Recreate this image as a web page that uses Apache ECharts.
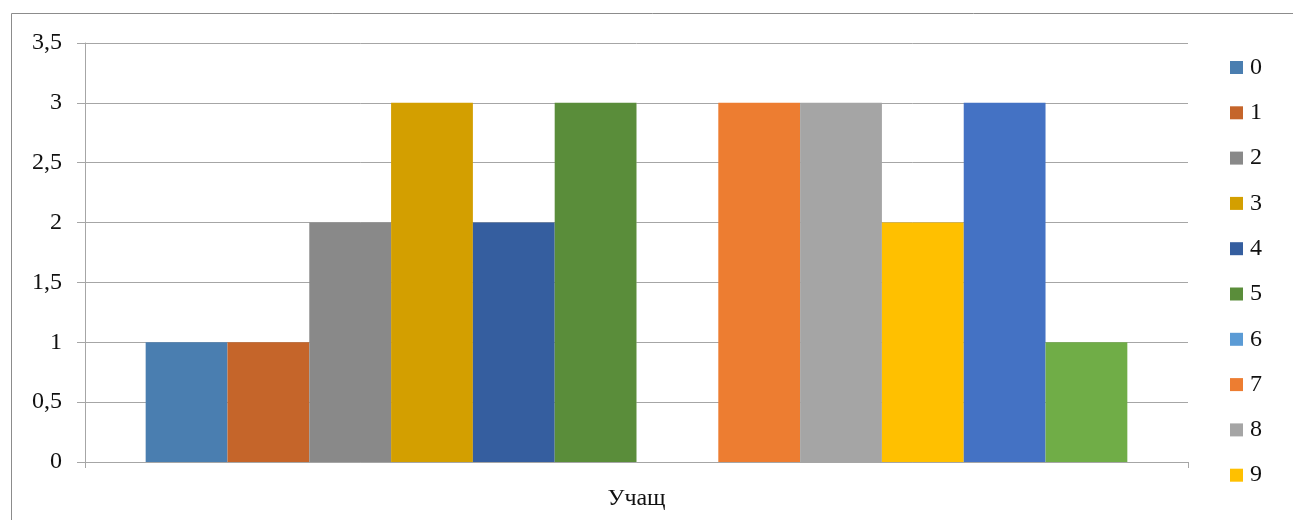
<!DOCTYPE html>
<html>
<head>
<meta charset="utf-8">
<script src="https://cdn.jsdelivr.net/npm/echarts@6/dist/echarts.min.js"></script>
<style>
  html, body { margin: 0; padding: 0; background: #fff; }
  #chart { width: 1293px; height: 520px; }
</style>
</head>
<body>
<div id="chart"></div>
<script>
// Category and per-series values
const categories = ['Учащ'];
const seriesNames = ['0', '1', '2', '3', '4', '5', '6', '7', '8', '9', '10', '11'];
const seriesValues = [1, 1, 2, 3, 2, 3, 0, 3, 3, 2, 3, 1];
const seriesColors = ['#4A7EB0', '#C5652A', '#898989', '#D39F00', '#355E9F', '#5A8D3A',
                      '#5B9BD5', '#ED7D31', '#A5A5A5', '#FFC000', '#4472C4', '#70AD47'];
const legendNames = ['0', '1', '2', '3', '4', '5', '6', '7', '8', '9'];
const yTicks = { min: 0, max: 3.5, interval: 0.5 };

const font = '"Liberation Serif", "Times New Roman", serif';

const chart = echarts.init(document.getElementById('chart'), null, { renderer: 'canvas' });

const series = seriesNames.map((name, i) => ({
  name: name,
  type: 'bar',
  data: [seriesValues[i]],
  itemStyle: { color: seriesColors[i] },
  barGap: '0%',
  barCategoryGap: '11%',
  emphasis: { disabled: true }
}));

chart.setOption({
  animation: false,
  backgroundColor: '#fff',
  graphic: [{
    type: 'rect',
    shape: { x: 11.5, y: 13.5, width: 1400, height: 700 },
    style: { fill: 'none', stroke: '#8c8c8c', lineWidth: 1 },
    silent: true
  }],
  grid: { left: 85, right: 105, top: 43, bottom: 58 },
  legend: {
    data: legendNames,
    orient: 'vertical',
    left: 1230,
    top: 55.5,
    height: 900,
    padding: 0,
    itemWidth: 13,
    itemHeight: 13,
    itemGap: 21.3,
    icon: 'rect',
    textStyle: { fontFamily: font, fontSize: 24, lineHeight: 20, color: '#111', padding: [0, 0, 0, 2] }
  },
  xAxis: {
    type: 'category',
    data: categories,
    axisLine: { lineStyle: { color: '#A6A6A6', width: 1 } },
    axisTick: { show: true, length: 6, alignWithLabel: false, lineStyle: { color: '#A6A6A6' } },
    axisLabel: { fontFamily: font, fontSize: 24, color: '#111', margin: 25 }
  },
  yAxis: {
    type: 'value',
    min: yTicks.min,
    max: yTicks.max,
    interval: yTicks.interval,
    axisLine: { show: true, lineStyle: { color: '#A6A6A6', width: 1 } },
    axisTick: { show: true, length: 8, lineStyle: { color: '#A6A6A6' } },
    splitLine: { lineStyle: { color: '#A6A6A6', width: 1 } },
    axisLabel: {
      fontFamily: font, fontSize: 24, color: '#111', margin: 23,
      formatter: v => String(v).replace('.', ',')
    }
  },
  series: series
});
</script>
</body>
</html>
